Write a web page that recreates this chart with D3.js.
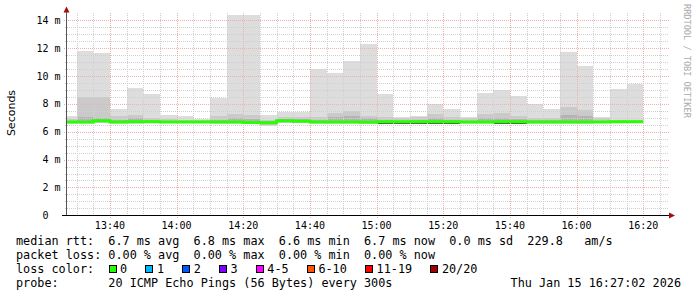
<!DOCTYPE html>
<html>
<head>
<meta charset="utf-8">
<script src="https://cdn.jsdelivr.net/npm/d3@7"></script>
<style>
  body { margin: 0; background: #fff; }
  text { font-family: "DejaVu Sans Mono", monospace; white-space: pre; }
</style>
</head>
<body>
<div id="chart"></div>
<script>
// end of each 5 minute probe slot
const slotEnds = ["13:30", "13:35", "13:40", "13:45", "13:50", "13:55", "14:00",
    "14:05", "14:10", "14:15", "14:20", "14:25", "14:30", "14:35", "14:40",
    "14:45", "14:50", "14:55", "15:00", "15:05", "15:10", "15:15", "15:20",
    "15:25", "15:30", "15:35", "15:40", "15:45", "15:50", "15:55", "16:00",
    "16:05", "16:10", "16:15", "16:20"];

// smoke (ms): outer max, second band top, inner band top, median, min
const pingMax = [7.13, 11.80, 11.65, 7.63, 9.14, 8.71, 7.18, 7.10, 6.89, 8.44,
    14.38, 14.38, 7.18, 7.44, 7.44, 10.50, 10.20, 11.08, 12.30, 8.71, 7.06,
    7.15, 7.99, 7.63, 7.06, 8.78, 8.97, 8.56, 7.99, 7.63, 11.72, 10.72, 7.03,
    9.07, 9.45];
const pingUpper = [6.88, 8.47, 8.47, 7.10, 7.20, 7.00, 6.90, 6.85, 6.82, 7.10,
    7.27, 7.18, 6.87, 7.06, 7.03, 7.06, 7.34, 7.46, 7.15, 7.08, 6.98, 7.08,
    7.27, 7.06, 6.95, 7.27, 7.37, 7.10, 6.95, 6.98, 7.80, 7.56, 6.98, 6.85,
    6.87];
const pingInner = [6.78, 7.05, 6.95, 6.85, 6.95, 6.85, 6.80, 6.78, 6.76, 6.85,
    6.95, 6.90, 6.75, 6.90, 6.90, 6.85, 7.05, 7.10, 6.95, 6.85, 6.80, 6.85,
    6.95, 6.85, 6.80, 6.95, 7.00, 6.90, 6.82, 6.82, 7.20, 7.10, 6.80, 6.78,
    6.78];
const pingMedian = [6.70, 6.70, 6.78, 6.70, 6.72, 6.72, 6.70, 6.70, 6.70, 6.70,
    6.70, 6.66, 6.64, 6.78, 6.76, 6.70, 6.70, 6.70, 6.68, 6.72, 6.72, 6.72,
    6.72, 6.72, 6.70, 6.70, 6.72, 6.72, 6.70, 6.70, 6.70, 6.70, 6.70, 6.72,
    6.72];
const pingMin = [6.55, 6.58, 6.60, 6.58, 6.58, 6.60, 6.60, 6.60, 6.60, 6.58,
    6.58, 6.52, 6.44, 6.62, 6.62, 6.58, 6.58, 6.58, 6.56, 6.52, 6.52, 6.54,
    6.54, 6.54, 6.56, 6.55, 6.54, 6.54, 6.58, 6.58, 6.58, 6.58, 6.60, 6.60,
    6.60];
// lower edge of the dark core under the median (equal to median = none)
const pingCore = [6.70, 6.70, 6.78, 6.70, 6.72, 6.72, 6.70, 6.70, 6.70, 6.70,
    6.70, 6.66, 6.64, 6.78, 6.76, 6.70, 6.70, 6.70, 6.68, 6.56, 6.56, 6.56,
    6.56, 6.56, 6.70, 6.70, 6.56, 6.56, 6.70, 6.70, 6.70, 6.70, 6.70, 6.72,
    6.72];

const lossLabels = ["0", "1", "2", "3", "4-5", "6-10", "11-19", "20/20"];
const lossColors = ["#26ff00", "#00b8ff", "#0059ff", "#7e00ff", "#ff00ff",
    "#ff5500", "#ff0000", "#a10000"];

const statLines = [
    "median rtt:  6.7 ms avg  6.8 ms max  6.6 ms min  6.7 ms now  0.0 ms sd  229.8   am/s",
    "packet loss: 0.00 % avg  0.00 % max  0.00 % min  0.00 % now"
];
const probeText = "probe:       20 ICMP Echo Pings (56 Bytes) every 300s";
const stampText = "Thu Jan 15 16:27:02 2026";

const width = 697, height = 297;
const svg = d3.select("#chart").append("svg")
    .attr("width", width)
    .attr("height", height);

const day = (h, m, s) => new Date(2026, 0, 15, h, m, s || 0);
const parseSlot = t => { const p = t.split(":"); return day(+p[0], +p[1]); };

const x = d3.scaleTime()
    .domain([day(13, 27, 2), day(16, 27, 2)])
    .range([66.7, 666.7]);
const y = d3.scaleLinear()
    .domain([0, 14.5])
    .range([215.3, 13.3]);

const slots = slotEnds.map((t, i) => {
    const end = parseSlot(t);
    return {
        start: d3.timeMinute.offset(end, -5),
        end: end,
        max: pingMax[i], upper: pingUpper[i], inner: pingInner[i],
        med: pingMedian[i], min: pingMin[i], core: pingCore[i]
    };
});

const left = d => Math.max(x(d.start), x.range()[0]);

// smoke bands
function band(lo, hi, colour) {
    svg.append("g").selectAll("rect").data(slots.filter(d => hi(d) > lo(d)))
        .enter().append("rect")
        .attr("x", left)
        .attr("width", d => x(d.end) - left(d))
        .attr("y", d => y(hi(d)))
        .attr("height", d => y(lo(d)) - y(hi(d)))
        .attr("fill", colour)
        .attr("shape-rendering", "crispEdges");
}
band(d => d.min, d => d.max, "#dddddd");
band(d => d.min + 0.04, d => d.upper, "#cacaca");
band(d => d.med - 0.06, d => d.inner, "#b4b4b4");
band(d => d.core, d => d.med, "#4a4a4a");

// grid
const grid = svg.append("g").attr("shape-rendering", "crispEdges");
const minorY = d3.range(0.5, 14.4, 0.5).filter(v => v % 2 !== 0);
const majorY = d3.range(2, 15, 2);
const minorX = x.ticks(d3.timeMinute.every(5)).filter(t => t.getMinutes() % 20 !== 0);
const majorX = x.ticks(d3.timeMinute.every(20));
const [x0, x1] = x.range();

grid.selectAll(".hmin").data(minorY).enter().append("line")
    .attr("x1", x0 - 2).attr("x2", x1 + 2)
    .attr("y1", d => Math.round(y(d)) + 0.5).attr("y2", d => Math.round(y(d)) + 0.5)
    .attr("stroke", "#d0d0d0").attr("stroke-dasharray", "1,1");
grid.selectAll(".vmin").data(minorX).enter().append("line")
    .attr("x1", d => Math.round(x(d)) + 0.5).attr("x2", d => Math.round(x(d)) + 0.5)
    .attr("y1", 13).attr("y2", 217)
    .attr("stroke", "#d0d0d0").attr("stroke-dasharray", "1,1");
grid.selectAll(".hmaj").data(majorY).enter().append("line")
    .attr("x1", x0 - 3).attr("x2", x1 + 2)
    .attr("y1", d => Math.round(y(d)) + 0.5).attr("y2", d => Math.round(y(d)) + 0.5)
    .attr("stroke", "#f0b0b0").attr("stroke-dasharray", "1,1");
grid.selectAll(".vmaj").data(majorX).enter().append("line")
    .attr("x1", d => Math.round(x(d)) + 0.5).attr("x2", d => Math.round(x(d)) + 0.5)
    .attr("y1", 13).attr("y2", 218)
    .attr("stroke", "#f0b0b0").attr("stroke-dasharray", "1,1");

// median line, coloured by loss (all 0 here)
const medPts = slots.map(d => ({ t: d.start, v: d.med }));
medPts.push({ t: slots[slots.length - 1].end, v: slots[slots.length - 1].med });
medPts[0].t = x.domain()[0];
svg.append("path")
    .datum(medPts)
    .attr("d", d3.line().x(d => x(d.t)).y(d => y(d.v)).curve(d3.curveStepAfter))
    .attr("fill", "none")
    .attr("stroke", lossColors[0])
    .attr("stroke-width", 3);

// axes
const axis = svg.append("g").attr("shape-rendering", "crispEdges");
axis.append("line").attr("x1", 66.5).attr("x2", 66.5).attr("y1", 215).attr("y2", 10)
    .attr("stroke", "#555");
axis.append("line").attr("x1", 62).attr("x2", 670).attr("y1", 215.5).attr("y2", 215.5)
    .attr("stroke", "#000");
svg.append("path").attr("d", "M63.5,12.5 L66.5,6.5 L69.5,12.5 Z").attr("fill", "#a01010");
svg.append("path").attr("d", "M669,212.5 L675,215.5 L669,218.5 Z").attr("fill", "#a01010");

// tick labels
svg.append("g").selectAll("text").data(d3.range(0, 15, 2)).enter().append("text")
    .attr("x", 60.5)
    .attr("y", d => y(d) + 3.6)
    .attr("text-anchor", "end")
    .attr("font-size", "10px")
    .attr("fill", "#000")
    .text(d => d === 0 ? "0  " : d + " m");

const fmt = d3.timeFormat("%H:%M");
svg.append("g").selectAll("text").data(majorX).enter().append("text")
    .attr("x", d => x(d))
    .attr("y", 228.5)
    .attr("text-anchor", "middle")
    .attr("font-size", "10px")
    .attr("fill", "#000")
    .text(fmt);

svg.append("text")
    .attr("transform", "translate(15,113) rotate(-90)")
    .attr("text-anchor", "middle")
    .style("font-family", "'DejaVu Sans', sans-serif")
    .attr("font-size", "11px")
    .text("Seconds");

svg.append("text")
    .attr("transform", "translate(684,4) rotate(90)")
    .attr("font-size", "8.6px")
    .attr("fill", "#aaaaaa")
    .text("RRDTOOL / TOBI OETIKER");

// legend
const legend = svg.append("g").attr("font-size", "11.8px").attr("fill", "#000");
const charW = 7.12;
statLines.forEach((s, i) => {
    legend.append("text").attr("x", 16).attr("y", 245 + i * 14).text(s);
});
legend.append("text").attr("x", 16).attr("y", 273).text("loss color:");
let bx = 16 + 13 * charW;
lossLabels.forEach((lab, i) => {
    legend.append("rect")
        .attr("x", Math.round(bx) + 0.5).attr("y", 265.5)
        .attr("width", 7).attr("height", 7)
        .attr("fill", lossColors[i])
        .attr("stroke", "#000")
        .attr("shape-rendering", "crispEdges");
    legend.append("text").attr("x", bx + 11.5).attr("y", 273).text(lab);
    bx += 29.7 + lab.length * charW;
});
legend.append("text").attr("x", 16).attr("y", 287).text(probeText);
legend.append("text").attr("x", 681).attr("y", 287).attr("text-anchor", "end").text(stampText);
</script>
</body>
</html>
